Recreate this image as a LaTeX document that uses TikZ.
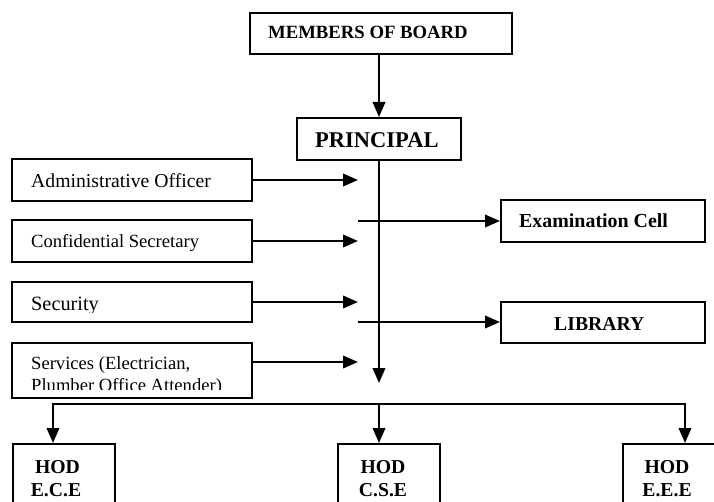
\documentclass[tikz,border=0pt]{standalone}
\usepackage{fontspec}
\setmainfont{Liberation Serif}
\usetikzlibrary{arrows.meta}
\begin{document}
\begin{tikzpicture}[x=1pt,y=-1pt,
  boxnode/.style 2 args={draw,line width=2pt,inner sep=0pt,minimum width=#1pt,minimum height=#2pt},
  lbl/.style={anchor=base west,inner sep=0pt,font=\fontsize{19.3}{22}\selectfont},
  blbl/.style={anchor=base west,inner sep=0pt,font=\fontsize{19.7}{23}\selectfont\bfseries},
  hod/.style={anchor=base,inner sep=0pt,font=\fontsize{19.7}{23}\selectfont\bfseries},
  arr/.style={line width=2.1pt,-{Triangle[length=15pt,width=12.5pt]}},
  ln/.style={line width=2.1pt}
]
\clip (0,0) rectangle (714,502);
% boxes
\node[boxnode={262}{41}] (members) at (381,33.5) {};
\node[boxnode={164}{42}] (principal) at (379,139) {};
\node[boxnode={240}{42}] (admin) at (132,180) {};
\node[boxnode={240}{42}] (conf) at (132,241) {};
\node[boxnode={240}{40}] (sec) at (132,302) {};
\node[boxnode={240}{55}] (serv) at (132,370.5) {};
\node[boxnode={204}{42}] (exam) at (603,221) {};
\node[boxnode={204}{41}] (lib) at (603,322.5) {};
\node[boxnode={102}{92}] (ece) at (64,490) {};
\node[boxnode={102}{92}] (cse) at (389,490) {};
\node[boxnode={102}{92}] (eee) at (674,490) {};
% texts
\node[blbl,font=\fontsize{18.7}{22}\selectfont\bfseries] (tmembers) at (268,39) {MEMBERS OF BOARD};
\node[blbl,font=\fontsize{22.5}{26}\selectfont\bfseries] (tprincipal) at (315,148) {PRINCIPAL};
\node[lbl,font=\fontsize{19.7}{22}\selectfont] (tadmin) at (31,188) {Administrative Officer};
\node[lbl,font=\fontsize{18.6}{22}\selectfont] (tconf) at (31,248) {Confidential Secretary};
\begin{scope}
\clip (12,282) rectangle (252,312);
\node[lbl,font=\fontsize{20.3}{22}\selectfont] (tsec) at (31,310) {Security};
\end{scope}
\begin{scope}
\clip (12,343) rectangle (252,389);
\node[lbl,font=\fontsize{18.6}{22}\selectfont] (tserv1) at (31,369) {Services (Electrician,};
\node[lbl,font=\fontsize{18.6}{22}\selectfont] (tserv2) at (31,391) {Plumber Office Attender)};
\end{scope}
\node[blbl,font=\fontsize{19.9}{23}\selectfont\bfseries] (texam) at (519,228) {Examination Cell};
\node[blbl] (tlib) at (554,330) {LIBRARY};
\node[hod] (th1) at (57.5,473) {HOD};
\node[hod] (te1) at (56,496) {E.C.E};
\node[hod] (th2) at (383,473) {HOD};
\node[hod] (te2) at (383,496) {C.S.E};
\node[hod] (th3) at (667,473) {HOD};
\node[hod] (te3) at (667,496) {E.E.E};
% coordinates
\coordinate (tipx) at (358,0);
\coordinate (mainEnd) at (379,383);
\coordinate (sA) at (358,362);
\coordinate (eS) at (358,221);
\coordinate (lS) at (358,322);
\coordinate (bus) at (379,404);
\coordinate (bl) at (53,404);
\coordinate (br) at (685,404);
% connectors
\draw[arr] (members.south -| principal.north) -- (principal.north);
\draw[arr] (principal.south) -- (mainEnd);
\draw[arr] (admin.east) -- (admin.east -| tipx);
\draw[arr] (conf.east) -- (conf.east -| tipx);
\draw[arr] (sec.east) -- (sec.east -| tipx);
\draw[arr] (sA -| serv.east) -- (sA);
\draw[arr] (eS) -- (eS -| exam.west);
\draw[arr] (lS) -- (lS -| lib.west);
\draw[arr] (bus) -| (ece.north -| bl);
\draw[arr] (bus) -| (eee.north -| br);
\draw[arr] (bus) -- (bus |- cse.north);
\end{tikzpicture}
\end{document}
